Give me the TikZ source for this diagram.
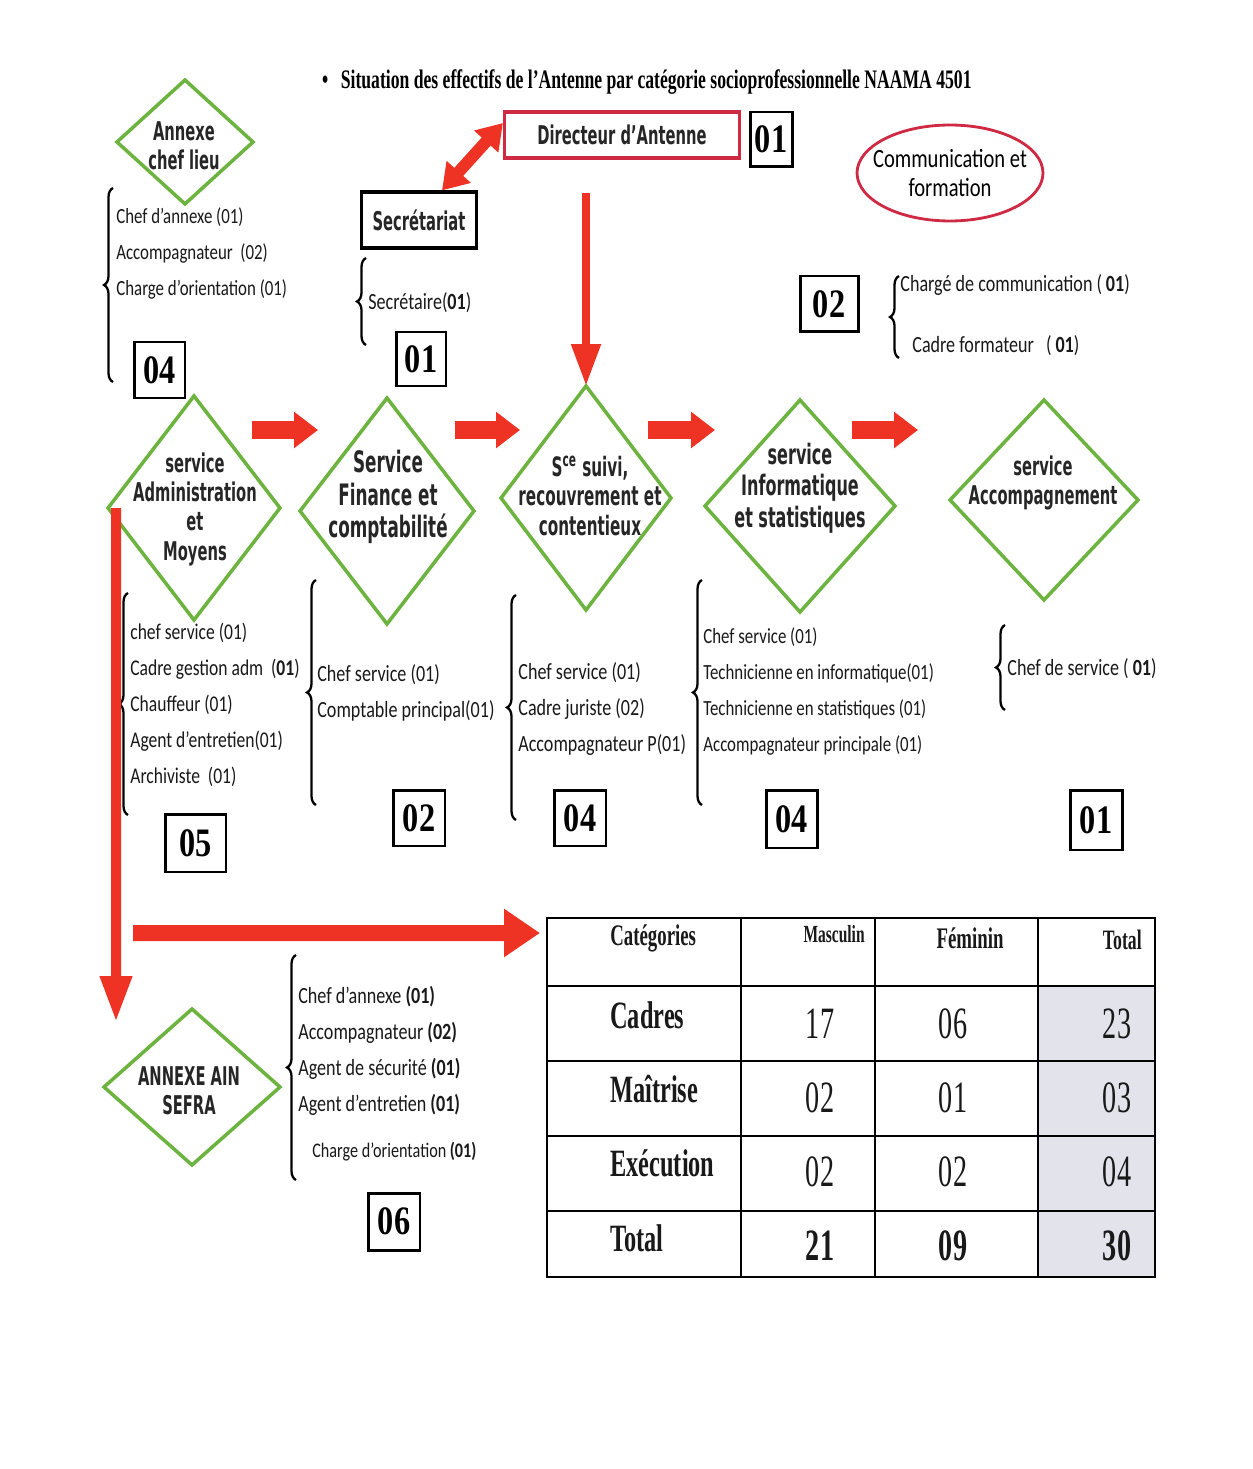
\documentclass[tikz,border=0pt]{standalone}
\usepackage{fontspec}
\setmainfont{Carlito}
\newfontfamily\listfam{Carlito}[FakeStretch=0.78]
\newfontfamily\diafam{DejaVu Sans}[FakeStretch=0.57]
\newfontfamily\serfam{Liberation Serif}[FakeStretch=0.63]
\newfontfamily\titfam{Liberation Serif}[FakeStretch=0.66]
\newfontfamily\numfam{Liberation Serif}[FakeStretch=0.8]
\usepackage{tikz}
\usetikzlibrary{shapes.geometric, arrows.meta, decorations.pathreplacing}

\definecolor{vert}{HTML}{6CB33F}
\definecolor{rouge}{HTML}{EE3224}
\definecolor{cramoisi}{HTML}{CF2A43}
\definecolor{grise}{HTML}{E3E3EC}

\newcommand{\diafont}{\diafam\bfseries\fontsize{14.7}{16.7}\selectfont}
\newcommand{\listefont}[1]{\listfam\fontsize{#1}{20.5}\selectfont}

\tikzstyle{losange} = [diamond, draw=vert, line width=2pt, inner sep=0pt, outer sep=0pt]
\tikzstyle{losangetxt} = [align=center, inner sep=0pt, text=black!85, font=\diafont]
\tikzstyle{nombre} = [draw, line width=1.7pt, inner sep=0pt, minimum width=1.04cm, minimum height=1.12cm, font=\numfam\bfseries\fontsize{23}{23}\selectfont]
\tikzstyle{liste} = [align=left, anchor=west, inner sep=0pt, text=black!90, font=\listefont{13.2}]
\tikzstyle{accolade} = [decorate, decoration={brace, amplitude=0.18cm}, line width=1.3pt]
\tikzstyle{fleche} = [rouge, line width=0.36cm, -{Triangle[length=0.48cm, width=0.7cm]}]
\tikzstyle{cellule} = [inner sep=0pt, text=black!90]

\begin{document}
\begin{tikzpicture}[x=0.02cm, y=-0.02cm]
			\fill[white] (0,0) rectangle (1252,1469);
			\useasboundingbox (0,0) rectangle (1252,1469);
			
			% Titre:
			\node[anchor=west, font=\titfam\bfseries\fontsize{15.2}{16}\selectfont] (titre) at (316,82)
			{\textbullet\hspace{0.25cm}Situation des effectifs de l’Antenne par catégorie socioprofessionnelle NAAMA 4501};
			
			% Direction, secretariat, communication:
			\node[draw=cramoisi, line width=1.8pt, minimum width=4.7cm, minimum height=0.92cm, inner sep=0pt, text=black!85, font=\diafont] (dir) at (622,135) {Directeur d’Antenne};
			\node[nombre, minimum width=0.84cm, minimum height=1.1cm] (ndir) at (771,139.5) {01};
			\node[draw, line width=1.8pt, minimum width=2.3cm, minimum height=1.12cm, inner sep=0pt, text=black!85, font=\diafont] (secr) at (419,220) {Secrétariat};
			\node[ellipse, draw=cramoisi, line width=1.6pt, minimum width=3.72cm, minimum height=1.92cm, inner sep=0pt] (comm) at (950,173) {};
			\node[align=center, inner sep=0pt, font=\listfam\fontsize{15}{16.5}\selectfont] (commtxt) at (comm) {Communication et\\formation};
			
			% Losanges des services:
			\node[losange, minimum width=2.72cm, minimum height=2.48cm] (annexe) at (185,142) {};
			\node[losangetxt] (annexetxt) at (184,146) {Annexe\\chef lieu};
			\node[losange, minimum width=3.44cm, minimum height=4.48cm] (adm) at (194,508) {};
			\node[losangetxt] (admtxt) at (195,509) {service\\Administration\\et\\Moyens};
			\node[losange, minimum width=3.48cm, minimum height=4.52cm] (fin) at (387,511) {};
			\node[losangetxt, font=\diafam\bfseries\fontsize{16.8}{18.5}\selectfont] (fintxt) at (388,497) {Service\\Finance et\\comptabilité};
			\node[losange, minimum width=3.4cm, minimum height=4.48cm] (suivi) at (586,498) {};
			\node[losangetxt, font=\diafam\bfseries\fontsize{15.2}{17}\selectfont] (suivitxt) at (590,496) {S\textsuperscript{ce} suivi,\\recouvrement et\\contentieux};
			\node[losange, minimum width=3.8cm, minimum height=4.24cm] (info) at (800,506) {};
			\node[losangetxt, font=\diafam\bfseries\fontsize{16}{17.8}\selectfont] (infotxt) at (800,488) {service\\Informatique\\et statistiques};
			\node[losange, minimum width=3.76cm, minimum height=4cm] (acc) at (1044,500) {};
			\node[losangetxt] (acctxt) at (1043,483) {service\\Accompagnement};
			\node[losange, minimum width=3.52cm, minimum height=3.12cm] (ain) at (192,1087) {};
			\node[losangetxt] (aintxt) at (189,1091) {ANNEXE AIN\\SEFRA};
			
			% Listes du personnel:
			\draw[accolade] (113,382) -- (113,188);
			\node[liste, font=\listefont{12.3}] (lannexe) at (116,253) {Chef d’annexe (01)\\Accompagnateur\ \ (02)\\Charge d’orientation (01)};
			\draw[accolade] (366,345) -- (366,258);
			\node[liste] (lsecr) at (368,303) {Secrétaire(\textbf{01})};
			\draw[accolade] (899,358) -- (899,276);
			\node[liste] (lcom1) at (900,285) {Chargé de communication (\,\textbf{01})};
			\node[liste] (lcom2) at (912,346) {Cadre formateur\ \ \ (\,\textbf{01})};
			\draw[accolade] (128,815) -- (128,593);
			\node[liste, font=\listefont{12.8}] (ladm) at (130,705) {chef service (01)\\Cadre gestion adm\ \ (\textbf{01})\\Chauffeur (01)\\Agent d’entretien(01)\\Archiviste\ \ (01)};
			\draw[accolade] (316,805) -- (316,580);
			\node[liste] (lfin) at (317,693) {Chef service (01)\\Comptable principal(01)};
			\draw[accolade] (516,820) -- (516,595);
			\node[liste] (lsuivi) at (518,709) {Chef service (01)\\Cadre juriste (02)\\Accompagnateur P(01)};
			\draw[accolade] (702,805) -- (702,580);
			\node[liste, font=\listefont{12.3}] (linfo) at (703,691) {Chef service (01)\\Technicienne en informatique(01)\\Technicienne en statistiques (01)\\Accompagnateur principale (01)};
			\draw[accolade] (1005,710) -- (1005,625);
			\node[liste] (lacc) at (1007,669) {Chef de service ( \textbf{01})};
			\draw[accolade] (296,1180) -- (296,955);
			\node[liste] (lain) at (298,1051) {Chef d’annexe \textbf{(01)}\\Accompagnateur \textbf{(02)}\\Agent de sécurité \textbf{(01)}\\Agent d’entretien \textbf{(01)}};
			\node[liste, font=\listfam\fontsize{11.8}{13}\selectfont] (lain2) at (312,1152) {Charge d’orientation \textbf{(01)}};
			
			% Effectifs:
			\node[nombre, minimum width=1.02cm] (nannexe) at (159.5,370) {04};
			\node[nombre, minimum width=1cm, minimum height=1.08cm] (nsecr) at (421,359) {01};
			\node[nombre, minimum width=1.16cm] (ncomm) at (829,304) {02};
			\node[nombre, minimum width=1.22cm, minimum height=1.16cm] (nadm) at (195.5,843) {05};
			\node[nombre] (nfin) at (419,818) {02};
			\node[nombre] (nsuivi) at (580,818) {04};
			\node[nombre, minimum width=1.02cm, minimum height=1.16cm] (ninfo) at (791.5,819) {04};
			\node[nombre, minimum height=1.2cm] (nacc) at (1096,820) {01};
			\node[nombre, minimum height=1.14cm] (nain) at (394,1221.5) {06};
			
			% Tableau:
			\fill[grise] (1038,986) rectangle (1155,1277);
			\node[draw, line width=1.2pt, minimum width=12.16cm, minimum height=7.18cm, inner sep=0pt, outer sep=0pt, anchor=north west] (tab) at (547,918) {};
			\draw[line width=1.2pt] (741,918) -- (741,1277) (875,918) -- (875,1277) (1038,918) -- (1038,1277);
			\foreach \y in {986,1061,1136,1211}
				\draw[line width=1.2pt] (547,\y) -- (1155,\y);
			\begin{scope}[font=\serfam\bfseries\fontsize{17}{17}\selectfont]
			\node[cellule, anchor=west] (hcat) at (610,938) {Catégories};
			\node[cellule, anchor=east, font=\serfam\bfseries\fontsize{14}{14}\selectfont] (hmas) at (865,934) {Masculin};
			\node[cellule] (hfem) at (970,938) {Féminin};
			\node[cellule, anchor=east, font=\serfam\bfseries\fontsize{16}{16}\selectfont] (htot) at (1142,940) {Total};
			\end{scope}
			\foreach \y/\cat/\m/\f/\t in {1024/Cadres/17/06/23, 1098/Maîtrise/02/01/03, 1172/Exécution/02/02/04}{%
				\node[cellule, anchor=west, font=\serfam\bfseries\fontsize{22}{22}\selectfont] (cat\y) at (610,\y-9) {\cat};
				\node[cellule, font=\serfam\fontsize{25.5}{25.5}\selectfont] (mas\y) at (820,\y) {\m};
				\node[cellule, font=\serfam\fontsize{25.5}{25.5}\selectfont] (fem\y) at (953,\y) {\f};
				\node[cellule, font=\serfam\fontsize{25.5}{25.5}\selectfont] (tot\y) at (1117,\y) {\t};
			}
			\begin{scope}[font=\serfam\bfseries\fontsize{25.5}{25.5}\selectfont]
			\node[cellule, anchor=west, font=\serfam\bfseries\fontsize{22}{22}\selectfont] (cattot) at (610,1238) {Total};
			\node[cellule] (mastot) at (820,1246) {21};
			\node[cellule] (femtot) at (953,1246) {09};
			\node[cellule] (tottot) at (1117,1246) {30};
			\end{scope}
			
			% Fleches rouges:
			\coordinate (f1a) at (252,430); \coordinate (f1b) at (318,430);
			\coordinate (f2a) at (455,430); \coordinate (f2b) at (520,430);
			\coordinate (f3a) at (648,430); \coordinate (f3b) at (715,430);
			\coordinate (f4a) at (852,430); \coordinate (f4b) at (918,430);
			\draw[fleche] (f1a) -- (f1b);
			\draw[fleche] (f2a) -- (f2b);
			\draw[fleche] (f3a) -- (f3b);
			\draw[fleche] (f4a) -- (f4b);
			\coordinate (dirbas) at (586,193);
			\draw[rouge, line width=0.16cm, -{Triangle[length=0.84cm, width=0.56cm]}] (dirbas) -- (suivi.north);
			\draw[rouge, line width=0.24cm, {Triangle[length=0.5cm, width=0.62cm]}-{Triangle[length=0.5cm, width=0.62cm]}] ([xshift=0.46cm]secr.north) -- ([yshift=0.24cm]dir.west);
			\coordinate (ainhaut) at (116,1022);
			\draw[rouge, line width=0.2cm, -{Triangle[length=0.92cm, width=0.6cm]}] ([xshift=0.16cm]adm.west) -- (ainhaut);
			\coordinate (tabgauche) at (133,933);
			\draw[rouge, line width=0.32cm, -{Triangle[length=0.72cm, width=0.92cm]}, shorten >=0.14cm] (tabgauche) -- ([yshift=-0.3cm]tab.north west);
\end{tikzpicture}
\end{document}
